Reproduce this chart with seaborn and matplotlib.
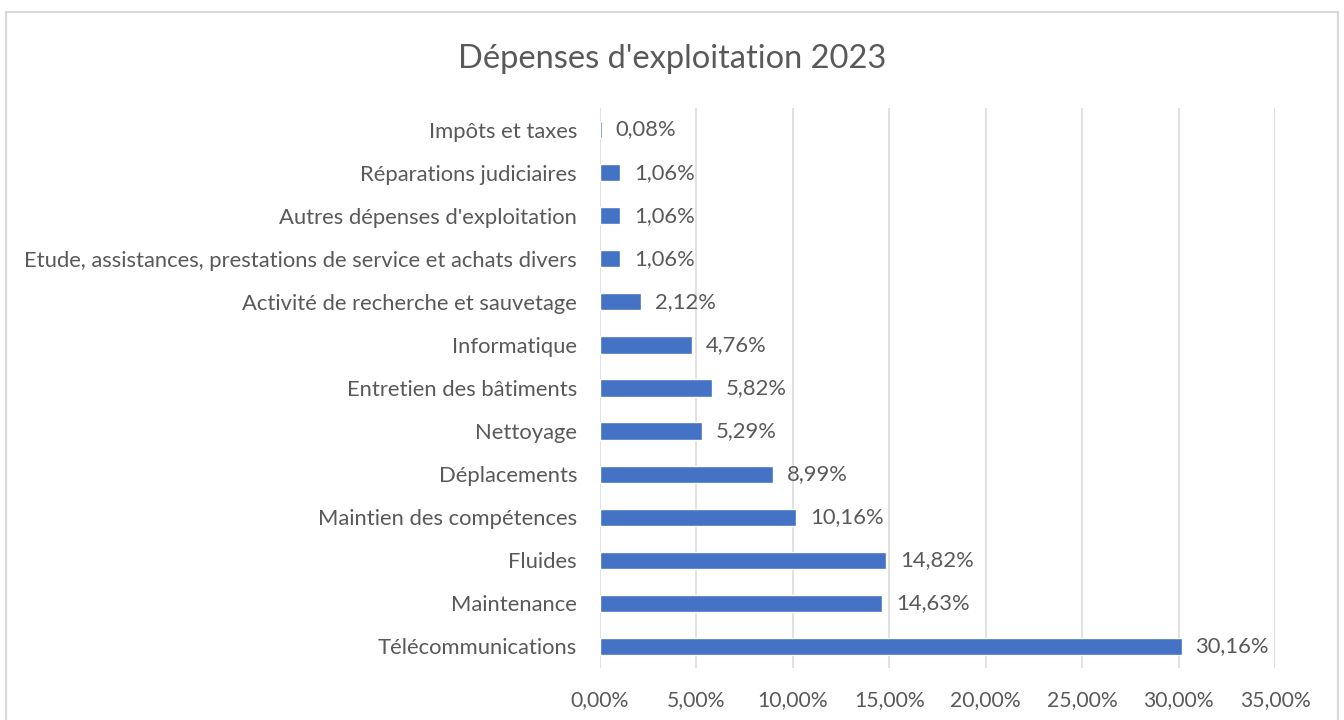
import matplotlib
matplotlib.use("Agg")
import matplotlib.pyplot as plt
from matplotlib.patches import Rectangle
from matplotlib.ticker import FuncFormatter
import pandas as pd
import seaborn as sns

# Data (top to bottom as displayed)
categories = [
    "Impôts et taxes",
    "Réparations judiciaires",
    "Autres dépenses d'exploitation",
    "Etude, assistances, prestations de service et achats divers",
    "Activité de recherche et sauvetage",
    "Informatique",
    "Entretien des bâtiments",
    "Nettoyage",
    "Déplacements",
    "Maintien des compétences",
    "Fluides",
    "Maintenance",
    "Télécommunications",
]
shares = [0.08, 1.06, 1.06, 1.06, 2.12, 4.76, 5.82, 5.29, 8.99, 10.16, 14.82, 14.63, 30.16]
x_ticks = [0, 5, 10, 15, 20, 25, 30, 35]

title = "Dépenses d'exploitation 2023"
bar_color = "#4472C4"
text_color = "#595959"
grid_color = "#D9D9D9"

df = pd.DataFrame({"categorie": categories, "part": shares})

sns.set_theme(style="white")
plt.rcParams["font.family"] = ["Lato", "DejaVu Sans"]

fig = plt.figure(figsize=(13.44, 7.2), dpi=100)
ax = fig.add_axes([600 / 1344, 1 - 668 / 720, 675 / 1344, 560 / 720])

sns.barplot(data=df, x="part", y="categorie", orient="h", color=bar_color,
            width=0.4, saturation=1, ax=ax)

ax.set_xlim(0, 35)
ax.set_ylim(len(categories) - 0.5, -0.5)
ax.set_xticks(x_ticks)
ax.xaxis.set_major_formatter(FuncFormatter(lambda v, p: f"{v:.2f}%".replace(".", ",")))
ax.grid(axis="x", color=grid_color, linewidth=1.1)
ax.set_axisbelow(True)
for s in ax.spines.values():
    s.set_visible(False)
ax.set_xlabel("")
ax.set_ylabel("")
ax.tick_params(axis="x", length=0, pad=16, labelsize=15.2, labelcolor=text_color)
ax.tick_params(axis="y", length=0, pad=16.5, labelsize=15.8, labelcolor=text_color)

ax.bar_label(ax.containers[0], labels=[f"{v:.2f}%".replace(".", ",") for v in shares],
             padding=10, fontsize=15.8, color=text_color)

fig.text(0.5, 1 - 68 / 720, title, ha="center", va="baseline", fontsize=23.5, color=text_color)

# chart border
fig.patches.append(Rectangle((6 / 1344, -0.05), 1332 / 1344, 1.05 - 12 / 720,
                             transform=fig.transFigure, fill=False,
                             edgecolor=grid_color, linewidth=1.5))

fig.savefig("out.png", dpi=100, facecolor="white")
